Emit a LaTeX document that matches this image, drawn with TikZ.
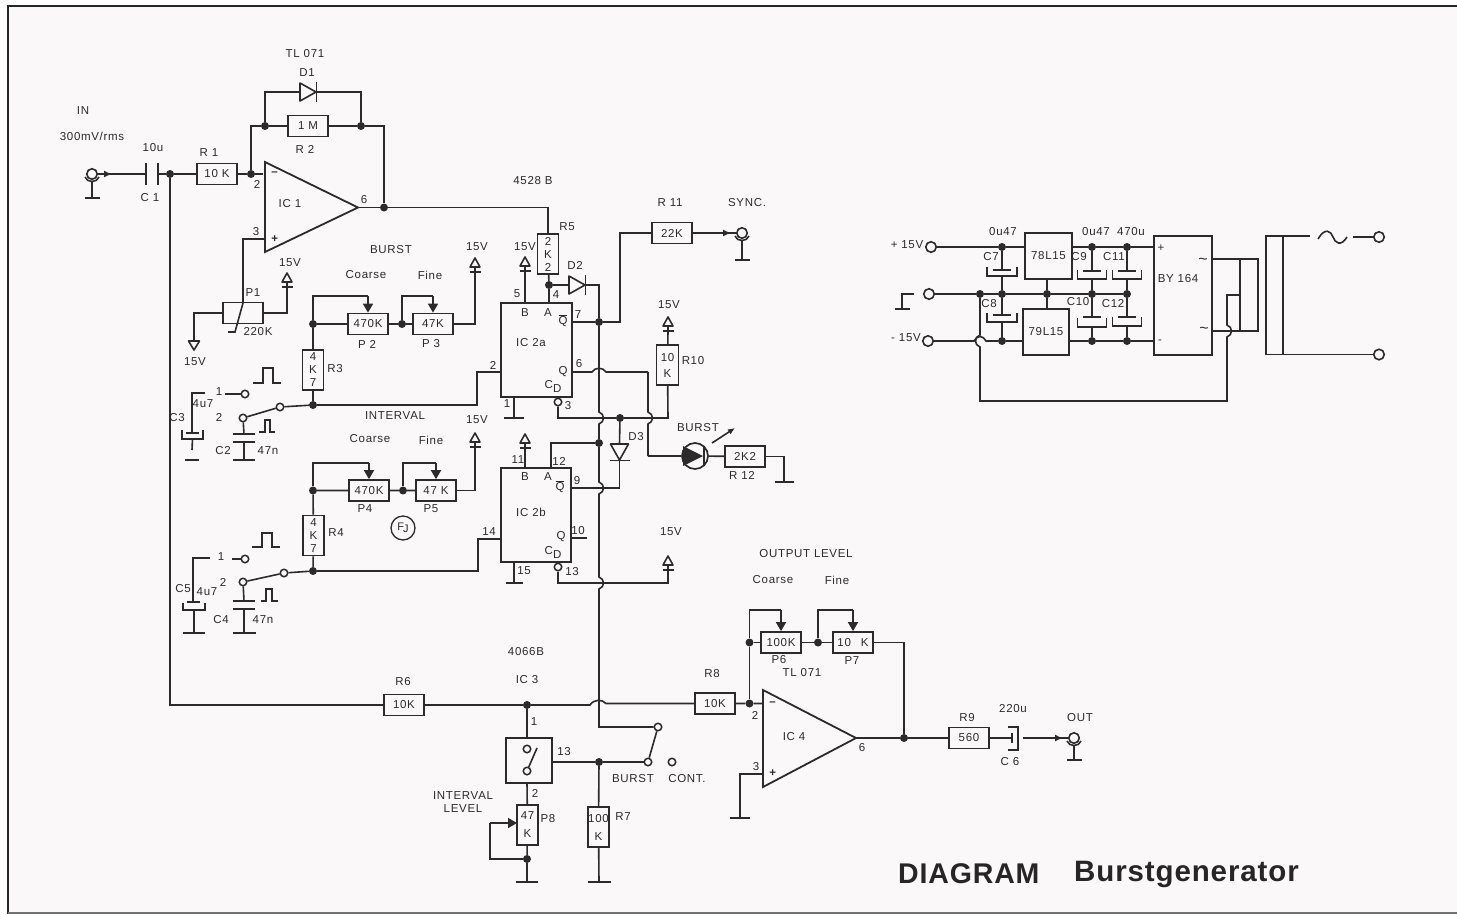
\documentclass[tikz,border=0pt]{standalone}
\usepackage{fontspec}
\setmainfont[LetterSpace=6]{Liberation Sans}
\newfontfamily\titlefont[LetterSpace=3]{Liberation Sans}
\usetikzlibrary{arrows.meta}
\definecolor{ink}{HTML}{2B2B2B}
\definecolor{paper}{HTML}{FBF8FA}
\tikzset{
  wire/.style={line width=1.6pt,draw=ink,line join=miter},
  res/.style={draw=ink,line width=1.7pt,rectangle,minimum width=40pt,minimum height=21pt,inner sep=0pt,text=ink,font=\fontsize{11.5}{13}\selectfont,align=center},
  vres/.style={res,minimum width=21pt,minimum height=40pt},
  icbox/.style={draw=ink,line width=1.7pt,rectangle,inner sep=0pt,text=ink,font=\fontsize{11.5}{13}\selectfont},
  dot/.style={circle,fill=ink,inner sep=0pt,minimum size=8pt},
  term/.style={circle,draw=ink,line width=1.6pt,fill=paper,inner sep=0pt,minimum size=10.5pt},
  cd/.style={circle,draw=ink,line width=1.5pt,fill=paper,inner sep=0pt,minimum size=7.5pt},
  plate/.style={rectangle,fill=ink,inner sep=0pt,minimum width=22pt,minimum height=2pt},
  vplate/.style={rectangle,fill=ink,inner sep=0pt,minimum width=2pt,minimum height=22pt},
  gnd/.style={rectangle,fill=ink,inner sep=0pt,minimum width=20pt,minimum height=2pt},
  lab/.style={inner sep=0pt,text=ink,font=\fontsize{11.5}{13}\selectfont,align=center},
  big/.style={inner sep=0pt,text=black!85,anchor=base west,font=\titlefont\bfseries\selectfont},
  arr/.style={wire,-{Latex[length=8pt,width=7pt]}},
  wip/.style={wire,-{Triangle[length=9pt,width=10pt]}}
}
% supply symbol: bar at (x,y), open triangle above it
\newcommand\supply[3]{\coordinate (#1) at (#2,#3);
  \draw[wire] (#2-5.5,#3)--(#2+5.5,#3);
  \draw[wire,line join=round] (#2-5,#3-5)--(#2,#3-14)--(#2+5,#3-5)--cycle;
  \draw[wire] (#2,#3-5)--(#2,#3);}
% diode: anode at -8, bar at +9
\newcommand\diode[4]{\begin{scope}[shift={(#2,#3)},rotate=#4]
  \draw[wire,line join=round] (-8,-9)--(-8,9)--(8,0)--cycle;
  \draw[wire] (8.5,-10)--(8.5,10);
  \coordinate (#1-a) at (-8,0);\coordinate (#1-k) at (8.5,0);
  \end{scope}}
% U of an electrolytic capacitor
\newcommand\ushape[5]{\coordinate (#1) at (#2,#4);
  \draw[wire] (#2-#3,#4-#5)--(#2-#3,#4)--(#2+#3,#4)--(#2+#3,#4-#5);}
% coaxial jack
\newcommand\jack[4]{\node[term] (#1) at (#2,#3) {};
  \draw[wire] (#2-7,#3+3) .. controls (#2-5,#3+9) and (#2+5,#3+9) .. (#2+7,#3+3);
  \node[gnd,minimum width=15pt] (#1-g) at (#2,#4) {};
  \coordinate (#1-s) at (#2,#3+7);
  \draw[wire] (#1-s)--(#1-g);}
% vertical wire hopping a crossing
\def\hop#1#2{-- (#1,#2-6) .. controls (#1+6,#2-4) and (#1+6,#2+4) .. (#1,#2+6)}
\begin{document}
\begin{tikzpicture}[x=1pt,y=-1pt]
\useasboundingbox (0,0) rectangle (1457,914);
\fill[white] (0,0) rectangle (1457,914);
\fill[paper] (8,6) rectangle (1457,912);
\draw[line width=2pt,draw=black!85] (8,914)--(8,6)--(1457,6);
\draw[line width=1.2pt,draw=black!55] (8,913)--(1457,913);

%%%%%% input stage
\jack{jin}{92}{174}{198}
\coordinate (ainp) at (112,174);
\node[vplate] (c1a) at (146,174) {};
\node[vplate] (c1b) at (158,174) {};
\node[dot] (j1) at (170,174) {};
\node[res] (r1) at (217,174) {10 K};
\node[dot] (j2) at (251,174) {};
\node[dot] (j3) at (265,126) {};
\node[res] (r2) at (308,126) {1 M};
\node[dot] (j4) at (361,126) {};
\node[dot] (j5) at (384,207.5) {};
\coordinate (c251) at (251,126);
\coordinate (c384) at (384,126);
\diode{d1}{308}{92}{0}
\coordinate (c265) at (265,92);
\coordinate (c361) at (361,92);
\draw[wire] (jin)--(c1a);
\draw[arr] (jin)--(ainp);
\draw[wire] (c1b)--(j1)--(r1)--(j2)--(263,174);
\draw[wire] (j2)--(c251)--(j3)--(r2)--(j4)--(c384)--(j5);
\draw[wire] (j3)--(c265)--(d1-a);
\draw[wire] (d1-k)--(c361)--(j4);
% op amp 1
\coordinate (oa1a) at (265,162);
\coordinate (oa1b) at (265,252);
\coordinate (oa1c) at (358,207.5);
\draw[wire,line width=1.8pt] (oa1a)--(oa1b)--(oa1c)--cycle;
\node[lab] (m1) at (275,174) {\textbf{--}};
\node[lab] (p1pl) at (275,239) {\textbf{+}};
\coordinate (oa1p) at (265,239);
\draw[wire] (oa1c)--(j5);
% R5 and the line to it
\node[vres] (r5) at (548,254) {2\\K\\2};
\coordinate (c548) at (548,207.5);
\draw[wire] (j5)--(c548)--(r5);
% P1
\node[res] (p1) at (243,313) {};
\coordinate (c243) at (243,239);
\coordinate (w1a) at (243,303);
\coordinate (w1b) at (235,332);
\coordinate (w1c) at (228,332);
\draw[wire] (oa1p)--(c243)--(w1a)--(w1b)--(w1c);
\coordinate (c195) at (194,313);
\coordinate (t1) at (194,340);
\draw[wire] (p1)--(c195)--(t1);
\draw[wire,line join=round] (188.5,341)--(199.5,341)--(194,350)--cycle;
\supply{s1}{287}{287}
\coordinate (c287) at (287,313);
\draw[wire] (p1)--(c287)--(s1);

%%%%%% burst pots
\node[res] (p2) at (368,324) {470K};
\node[res] (p3) at (433,324) {47K};
\node[dot] (j6) at (313,324) {};
\node[dot] (j7) at (402,324) {};
\node[vres] (r3) at (313,370) {4\\K\\7};
\coordinate (t2) at (313,296);
\coordinate (t2b) at (368,296);
\coordinate (t3) at (402,296);
\coordinate (t3b) at (433,296);
\draw[wire] (r3)--(j6)--(p2)--(j7)--(p3);
\draw[wire] (j6)--(t2)--(t2b);
\draw[wip] (t2b)--(p2.north);
\draw[wire] (j7)--(t3)--(t3b);
\draw[wip] (t3b)--(p3.north);
\supply{s3}{475}{272}
\coordinate (c475) at (475,324);
\draw[wire] (p3)--(c475)--(s3);

%%%%%% interval pots
\node[res] (p4) at (369,490.5) {470K};
\node[res] (p5) at (436,490.5) {47 K};
\node[dot] (j8) at (313,490.5) {};
\node[dot] (j9) at (403,490.5) {};
\node[vres] (r4) at (313.5,535.5) {4\\K\\7};
\coordinate (t4) at (313,463);
\coordinate (t4b) at (369,463);
\coordinate (t5) at (403,463);
\coordinate (t5b) at (436,463);
\draw[wire] (r4)--(j8)--(p4)--(j9)--(p5);
\draw[wire] (j8)--(t4)--(t4b);
\draw[wip] (t4b)--(p4.north);
\draw[wire] (j9)--(t5)--(t5b);
\draw[wip] (t5b)--(p5.north);
\supply{s5}{475}{447}
\coordinate (c475b) at (475,490.5);
\draw[wire] (p5)--(c475b)--(s5);

%%%%%% timing switch 1
\node[dot] (j10) at (313,405) {};
\node[cd] (sw1a) at (280,407) {};
\node[cd] (sw1b) at (243,418) {};
\node[cd] (sw1c) at (245,394) {};
\coordinate (c477) at (477,405);
\coordinate (c477b) at (477,372);
\coordinate (pin2) at (501,372);
\draw[wire] (r3)--(j10)--(c477)--(c477b)--(pin2);
\draw[wire] (j10)--(sw1a)--(sw1b);
\coordinate (w225) at (225,394);
\draw[wire] (w225)--(sw1c);
\coordinate (c3w) at (205,393);
\coordinate (c3c) at (192,393);
\node[plate,minimum width=13pt] (c3p) at (192,433) {};
\ushape{c3u}{192.5}{10.5}{439}{9}
\node[gnd,minimum width=14pt,minimum height=2.5pt] (c3g) at (192,460) {};
\draw[wire] (c3w)--(c3c)--(c3p);
\draw[wire] (c3u)--(192,450);
\node[plate] (c2a) at (244,434) {};
\node[plate] (c2b) at (244,442) {};
\node[gnd,minimum width=22pt] (c2g) at (244,460) {};
\draw[wire] (sw1b)--(c2a);
\draw[wire] (c2b)--(c2g);
\draw[wire] (253,383)--(263,383)--(263,368)--(273,368)--(273,383)--(281,383);
\draw[wire] (259,432)--(265,432)--(265,420)--(270,420)--(270,432)--(275,432);

%%%%%% timing switch 2
\node[dot] (j11) at (313,571) {};
\node[cd] (sw2a) at (284,573) {};
\node[cd] (sw2b) at (243,582) {};
\node[cd] (sw2c) at (245,559) {};
\coordinate (c478) at (478,571);
\coordinate (c478b) at (478,539);
\coordinate (pin14) at (501,539);
\draw[wire] (r4)--(j11)--(c478)--(c478b)--(pin14);
\draw[wire] (j11)--(sw2a)--(sw2b);
\coordinate (w232) at (232,559);
\draw[wire] (w232)--(sw2c);
\coordinate (c5w) at (210,558);
\coordinate (c5c) at (193,558);
\node[plate,minimum width=13pt] (c5p) at (193,602) {};
\ushape{c5u}{194}{11}{610}{7}
\node[gnd,minimum width=22pt] (c5g) at (194,633) {};
\draw[wire] (c5w)--(c5c)--(c5p);
\draw[wire] (c5u)--(c5g);
\node[plate] (c4a) at (244,601) {};
\node[plate] (c4b) at (244,609) {};
\node[gnd,minimum width=23pt] (c4g) at (244,633) {};
\draw[wire] (sw2b)--(c4a);
\draw[wire] (c4b)--(c4g);
\draw[wire] (252,547)--(262,547)--(262,533)--(272,533)--(272,547)--(280,547);
\draw[wire] (261,601)--(266,601)--(266,589)--(272,589)--(272,601)--(278,601);

%%%%%% IC2a
\node[icbox,minimum width=71pt,minimum height=94pt] (ic2a) at (536.5,350) {};
\node[dot] (j12) at (549,285) {};
\coordinate (pin4) at (549,303);
\draw[wire] (r5)--(j12)--(pin4);
\diode{d2}{577}{285}{0}
\draw[wire] (j12)--(d2-a);
\supply{s2a}{525}{271}
\coordinate (pin5) at (525,303);
\draw[wire] (s2a)--(pin5);
\coordinate (pin1) at (514,397);
\node[gnd] (g1) at (514,418) {};
\draw[wire] (pin1)--(g1);
\node[cd] (cd2a) at (558,402) {};
\node[dot] (j13) at (599,322) {};
\coordinate (q2a) at (572,322);
\coordinate (c620) at (620,322);
\coordinate (c620b) at (620,233);
\node[res] (r11) at (672,233) {22K};
\draw[wire] (q2a)--(j13)--(c620)--(c620b)--(r11);
\jack{jsync}{742}{233}{260}
\coordinate (asy) at (731,233);
\draw[wire] (r11)--(jsync);
\draw[arr] (r11)--(asy);
% R10 and the reset rail
\supply{s10}{668}{331}
\node[vres,minimum width=22pt] (r10) at (667.5,365) {10\\[3pt]K};
\draw[wire] (s10)--(r10);
\node[dot] (j14) at (620,418) {};
\coordinate (c668) at (668,418);
\coordinate (c558) at (558,418);
\draw[wire] (cd2a)--(c558)--(j14)--(c668)--(r10);
% main vertical
\node[dot] (j15) at (599,443) {};
\node[dot] (j16) at (599,762) {};
\node[cd] (swa) at (658,727) {};
\coordinate (dk) at (599,285);
\coordinate (cvb) at (599,727);
\draw[wire] (d2-k)--(dk)--(j13);
\draw[wire] (j13) \hop{599}{418} -- (j15) \hop{599}{488} \hop{599}{583} -- (cvb)--(swa);
% Q 6 line
\coordinate (q6) at (572,372);
\coordinate (c648) at (648,372);
\coordinate (c648b) at (648,456);
\draw[wire] (q6)--(592,372) .. controls (595,367) and (603,367) .. (606,372)--(c648);
\draw[wire] (c648) \hop{648}{418} -- (c648b);
% LED
\node[circle,draw=ink,line width=1.7pt,inner sep=0pt,minimum size=26pt] (led) at (695,456) {};
\fill[ink] (683,446)--(683,466)--(703,456)--cycle;
\draw[wire] (704,446)--(704,466);
\draw[wire] (c648b)--(led);
\node[res] (r12) at (745,456.5) {2K2};
\draw[wire] (led)--(r12);
\coordinate (la) at (712,443);
\coordinate (lb) at (735,428);
\draw[wire,-{Latex[length=7pt,width=6pt]}] (la)--(lb);
\coordinate (c784) at (784,456.5);
\node[gnd,minimum width=19pt] (g12) at (784,482) {};
\draw[wire] (r12)--(c784)--(g12);
% D3
\diode{d3}{619.5}{452}{-90}
\draw[wire] (j14)--(d3-a);
\coordinate (c619) at (619.5,488);
\coordinate (q9) at (571,488);
\draw[wire] (d3-k)--(c619)--(q9);

%%%%%% IC2b
\node[icbox,minimum width=70pt,minimum height=94pt] (ic2b) at (536,515) {};
\coordinate (c551) at (551,443);
\coordinate (pin12) at (551,468);
\draw[wire] (j15)--(c551)--(pin12);
\supply{s2b}{525}{448}
\coordinate (pin11) at (525,468);
\draw[wire] (s2b)--(pin11);
\coordinate (pin15) at (514,562);
\node[gnd,minimum width=17pt] (g15) at (514,583) {};
\draw[wire] (pin15)--(g15);
\coordinate (q10) at (571,538);
\coordinate (q10b) at (587,538);
\draw[wire] (q10)--(q10b);
\node[cd] (cd2b) at (558,567) {};
\coordinate (c558b) at (558,583);
\supply{s15}{668}{570}
\coordinate (c668b) at (668,583);
\draw[wire] (cd2b)--(c558b)--(c668b)--(s15);

%%%%%% IC3 and mixer
\coordinate (c170) at (170,705);
\node[res] (r6) at (404,705) {10K};
\node[dot] (j18) at (527,705) {};
\node[res] (r8) at (715,703.5) {10K};
\node[dot] (j19) at (749.5,703.5) {};
\draw[wire] (j1)--(c170)--(r6)--(j18)--(590,705) .. controls (594,699) and (602,699) .. (606,703.5)--(r8)--(j19)--(763,703.5);
\node[icbox,minimum width=46pt,minimum height=45pt] (ic3) at (529,760.5) {};
\coordinate (c527) at (527,738);
\draw[wire] (j18)--(c527);
\node[cd] (ic3a) at (527,749) {};
\node[cd] (ic3b) at (527,771) {};
\draw[wire] (537,748)--(ic3b);
\node[cd] (swb) at (648,762) {};
\node[cd] (swc) at (672,762) {};
\coordinate (o13) at (552,762);
\draw[wire] (o13)--(j16)--(swb);
\draw[wire] (swa)--(swb);
\node[vres] (r7) at (598.5,827) {100\\[5pt]K};
\node[gnd,minimum width=23pt] (g7) at (599,882) {};
\draw[wire] (j16)--(r7)--(g7);
\node[vres] (p8) at (527.5,825) {47\\[5pt]K};
\coordinate (o2) at (527,783);
\draw[wire] (o2)--(p8);
\node[dot] (j20) at (527,859) {};
\node[gnd,minimum width=22pt] (g8) at (527,882) {};
\draw[wire] (p8)--(j20)--(g8);
\coordinate (c490) at (490,859);
\coordinate (c490b) at (490,823);
\coordinate (p8w) at (517,823);
\draw[wire] (j20)--(c490)--(c490b);
\draw[wip] (c490b)--(p8w);

%%%%%% output stage
\coordinate (oa4a) at (763,690);
\coordinate (oa4b) at (763,787);
\coordinate (oa4c) at (856,738);
\draw[wire,line width=1.8pt] (oa4a)--(oa4b)--(oa4c)--cycle;
\node[lab] (m4) at (773,704) {\textbf{--}};
\node[lab] (p4pl) at (773,773) {\textbf{+}};
\coordinate (oa4p) at (763,774);
\coordinate (c740) at (740,774);
\node[gnd,minimum width=20pt] (g4) at (740,818) {};
\draw[wire] (oa4p)--(c740)--(g4);
\node[res] (p6) at (781,642.5) {100K};
\node[res] (p7) at (853,642.5) {10\hspace{10pt}K};
\node[dot] (j21) at (749.5,642.5) {};
\node[dot] (j22) at (818,642.5) {};
\coordinate (t6) at (749.5,610);
\coordinate (t6b) at (781,610);
\coordinate (t7) at (818,610);
\coordinate (t7b) at (853,610);
\draw[wire] (j19)--(j21)--(t6)--(t6b);
\draw[wip] (t6b)--(p6.north);
\draw[wire] (j21)--(p6)--(j22)--(p7);
\draw[wire] (j22)--(t7)--(t7b);
\draw[wip] (t7b)--(p7.north);
\node[dot] (j23) at (904,738) {};
\coordinate (c904) at (904,642.5);
\draw[wire] (p7)--(c904)--(j23);
\node[res] (r9) at (969,738) {560};
\draw[wire] (oa4c)--(j23)--(r9);
\node[rectangle,fill=ink,inner sep=0pt,minimum width=2pt,minimum height=10pt] (c6p) at (1012,738) {};
\draw[wire] (1008,727)--(1018,727)--(1018,750)--(1008,750);
\draw[wire] (r9)--(c6p);
\coordinate (o6) at (1023,738);
\coordinate (ao) at (1063,738);
\jack{jout}{1074}{738}{760}
\draw[wire] (o6)--(jout);
\draw[arr] (o6)--(ao);

%%%%%% power supply
\node[term] (tp) at (931,247) {};
\node[term] (tg) at (929,294) {};
\node[term] (tm) at (928,341) {};
\node[icbox,minimum width=47pt,minimum height=46pt] (u1) at (1048.5,256) {78L15};
\node[icbox,minimum width=46pt,minimum height=46pt] (u2) at (1046,332) {79L15};
\node[icbox,minimum width=58pt,minimum height=119pt] (by) at (1183,295.5) {};
\foreach \n/\xx/\yy in {a/1002/247,b/1092/247,c/1127/247,d/980/294,e/1002/294,f/1047/294,g/1092/294,h/1127/294,i/1002/341,k/1092/341,l/1127/341}
  \node[dot] (ps\n) at (\xx,\yy) {};
\draw[wire] (tp)--(psa)--(1025,247);
\draw[wire] (1072,247)--(psb)--(psc)--(1154,247);
\draw[wire] (tg)--(psd)--(pse)--(psf)--(psg)--(psh);
\draw[wire] (psf)--(1047,279);
\draw[wire] (psf)--(1047,309);
\draw[wire] (tm)--(974,341) .. controls (977,335) and (983,335) .. (986,341)--(psi)--(1023,341);
\draw[wire] (1069,341)--(psk)--(psl)--(1154,341);
% capacitors
\foreach \n/\xx/\pl/\uu/\hw/\top/\bot in {7/1002/270/276/15/psa/pse,9/1092/271/279/14.5/psb/psg,11/1127/271/279/14.5/psc/psh,8/1002/315/322/15/pse/psi,10/1092/317/327/14.5/psg/psk,12/1127/317/326/14.5/psh/psl}{
  \node[plate,minimum width=18pt] (cp\n) at (\xx,\pl) {};
  \ushape{cu\n}{\xx}{\hw}{\uu}{9}
  \draw[wire] (\top)--(cp\n);
  \draw[wire] (cu\n)--(\bot);
}
% ground symbol at the power input
\coordinate (gs1) at (914,294);
\coordinate (gs2) at (902,294);
\node[gnd,minimum width=15pt] (gs3) at (902,309) {};
\draw[wire] (gs1)--(gs2)--(gs3);
% AC side
\coordinate (ac1) at (1212,259);
\coordinate (ac2) at (1212,331);
\coordinate (ac3) at (1258,259);
\coordinate (ac4) at (1258,331);
\coordinate (ac5) at (1240,259);
\coordinate (ac6) at (1240,331);
\coordinate (ac7) at (1240,295);
\coordinate (ac8) at (1227,295);
\coordinate (ac9) at (1227,401);
\coordinate (ac10) at (980,401);
\draw[wire] (ac1)--(ac3)--(ac4)--(ac2);
\draw[wire] (ac5)--(ac6);
\draw[wire] (ac7)--(ac8) \hop{1227}{331} --(ac9)--(ac10)--(980,347) .. controls (974,345) and (974,337) .. (980,335)--(psd);
% transformer
\coordinate (tr1) at (1266,236);
\coordinate (tr2) at (1266,354.5);
\coordinate (tr3) at (1310,236);
\coordinate (tr4) at (1283,236);
\coordinate (tr5) at (1283,354.5);
\node[term] (ta) at (1379,237) {};
\node[term] (tb) at (1379,354.5) {};
\draw[wire] (tr3)--(tr1)--(tr2)--(tr5)--(tb);
\draw[wire] (tr4)--(tr5);
\draw[wire] (1318,239) .. controls (1325,227) and (1331,231) .. (1333,237) .. controls (1335,243) and (1341,247) .. (1347,237);
\coordinate (ts) at (1353,237);
\draw[wire] (ts)--(ta);

%%%%%% labels
\node[lab] (tIN) at (83,111) {IN};
\node[lab] (t300) at (92,136) {300mV/rms};
\node[lab] (t10u) at (153,148) {10u};
\node[lab] (tC1) at (150,198) {C 1};
\node[lab] (tR1) at (209,153) {R 1};
\node[lab] (tTL1) at (305,54) {TL 071};
\node[lab] (tD1) at (307,73) {D1};
\node[lab] (tR2) at (305,149) {R 2};
\node[lab] (tIC1) at (290,204) {IC\hspace{4pt}1};
\node[lab] (t6a) at (364,200) {6};
\node[lab] (t2a) at (257,184) {2};
\node[lab] (t3a) at (256,232) {3};
\node[lab] (tP1) at (253,293) {P1};
\node[lab] (t220) at (258,332) {220K};
\node[lab] (t15a) at (290,263) {15V};
\node[lab] (t15b) at (195,362) {15V};
\node[lab] (tBURST) at (391,250) {BURST};
\node[lab] (tCoarse1) at (366,275) {Coarse};
\node[lab] (tFine1) at (430,275) {Fine};
\node[lab] (t15c) at (477,247) {15V};
\node[lab] (tP2) at (367,344) {P 2};
\node[lab] (tP3) at (431,344) {P 3};
\node[lab] (tR3) at (335,369) {R3};
\node[lab] (t1a) at (219,392) {1};
\node[lab] (t2b) at (219,417) {2};
\node[lab] (t4u7a) at (203,404) {4u7};
\node[lab] (tC3) at (177,418) {C3};
\node[lab] (tC2) at (223,451) {C2};
\node[lab] (t47a) at (268,451) {47n};
\node[lab] (tINTERVAL) at (395,416) {INTERVAL};
\node[lab] (tCoarse2) at (370,439) {Coarse};
\node[lab] (tFine2) at (431,440) {Fine};
\node[lab] (t15d) at (477,420) {15V};
\node[lab] (tP4) at (365,509) {P4};
\node[lab] (tP5) at (431,509) {P5};
\node[lab] (tR4) at (336,533) {R4};
\node[circle,draw=ink,line width=1.3pt,inner sep=0pt,minimum size=24pt,text=ink,font=\fontsize{11}{12}\selectfont] (tF) at (403,528) {F\kern-1pt\raisebox{-2pt}{J}};
\node[lab] (t1b) at (221,557) {1};
\node[lab] (t2c) at (223,582) {2};
\node[lab] (tC5) at (183,589) {C5};
\node[lab] (t4u7b) at (207,592) {4u7};
\node[lab] (tC4) at (221,620) {C4};
\node[lab] (t47b) at (263,620) {47n};
\node[lab] (t4528) at (533,181) {4528 B};
\node[lab] (tR5) at (567,227) {R5};
\node[lab] (tD2) at (575,265) {D2};
\node[lab] (t15e) at (525,247) {15V};
\node[lab] (t5) at (517,294) {5};
\node[lab] (t4) at (556,295) {4};
\node[lab] (tBa) at (525,313) {B};
\node[lab] (tAa) at (548,313) {A};
\node[lab] (tQba) at (563,321) {\vbox{\hrule height .9pt\kern1pt\hbox{Q}}};
\node[lab] (t7) at (578,315) {7};
\node[lab] (tIC2a) at (531,343) {IC 2a};
\node[lab] (t2d) at (493,365) {2};
\node[lab] (tQa) at (563,372) {Q};
\node[lab] (t6b) at (579,364) {6};
\node[lab] (tCDa) at (553,386) {C\raisebox{-4pt}{D}};
\node[lab] (t3b) at (568,406) {3};
\node[lab] (t1c) at (507,404) {1};
\node[lab] (tR11) at (670,203) {R 11};
\node[lab] (tSYNC) at (747,203) {SYNC.};
\node[lab] (t15g) at (669,305) {15V};
\node[lab] (tR10) at (693,361) {R10};
\node[lab] (tD3) at (636,437) {D3};
\node[lab] (tBURST2) at (698,428) {BURST};
\node[lab] (tR12) at (742,475) {R 12};
\node[lab] (t11) at (518,460) {11};
\node[lab] (t12) at (559,461) {12};
\node[lab] (tBb) at (525,477) {B};
\node[lab] (tAb) at (548,477) {A};
\node[lab] (tQbb) at (560,487) {\vbox{\hrule height .9pt\kern1pt\hbox{Q}}};
\node[lab] (t9) at (577,481) {9};
\node[lab] (tIC2b) at (531,512) {IC 2b};
\node[lab] (t14) at (489,532) {14};
\node[lab] (t10) at (578,531) {10};
\node[lab] (tQb) at (561,537) {Q};
\node[lab] (tCDb) at (553,552) {C\raisebox{-4pt}{D}};
\node[lab] (t15) at (524,571) {15};
\node[lab] (t13a) at (572,572) {13};
\node[lab] (t15h) at (671,532) {15V};
\node[lab] (tOL) at (806,554) {OUTPUT LEVEL};
\node[lab] (tCoarse3) at (773,580) {Coarse};
\node[lab] (tFine3) at (837,580) {Fine};
\node[lab] (tP6) at (779,660) {P6};
\node[lab] (tP7) at (852,661) {P7};
\node[lab] (tTL2) at (802,673) {TL 071};
\node[lab] (tR8) at (712,674) {R8};
\node[lab] (tR6) at (403,682) {R6};
\node[lab] (t4066) at (526,652) {4066B};
\node[lab] (tIC3) at (527,680) {IC 3};
\node[lab] (t1d) at (534,722) {1};
\node[lab] (t13b) at (564,752) {13};
\node[lab] (t2e) at (535,793) {2};
\node[lab] (tIL) at (463,802) {INTERVAL\\LEVEL};
\node[lab] (tP8) at (548,819) {P8};
\node[lab] (tR7) at (623,817) {R7};
\node[lab] (tB3) at (633,779) {BURST};
\node[lab] (tCONT) at (687,779) {CONT.};
\node[lab] (t2f) at (755,715) {2};
\node[lab] (t3c) at (756,767) {3};
\node[lab] (tIC4) at (794,737) {IC 4};
\node[lab] (t6c) at (862,748) {6};
\node[lab] (tR9) at (967,718) {R9};
\node[lab] (t220u) at (1013,709) {220u};
\node[lab] (tC6) at (1010,762) {C 6};
\node[lab] (tOUT) at (1080,718) {OUT};
\node[lab] (tp15) at (907,245) {+ 15V};
\node[lab] (tm15) at (906,338) {- 15V};
\node[lab] (t047a) at (1003,232) {0u47};
\node[lab] (t047b) at (1096,232) {0u47};
\node[lab] (t470) at (1131,232) {470u};
\node[lab] (tC7) at (991,257) {C7};
\node[lab] (tC8) at (989,304) {C8};
\node[lab] (tC9) at (1079,257) {C9};
\node[lab] (tC10) at (1078,302) {C10};
\node[lab] (tC11) at (1114,257) {C11};
\node[lab] (tC12) at (1113,304) {C12};
\node[lab] (tBY) at (1178,279) {BY 164};
\node[lab] (tplus) at (1161,248) {+};
\node[lab] (tminus) at (1160,342) {-};
\node[lab,font=\fontsize{16}{16}\selectfont] (tt1) at (1203,261) {\textasciitilde};
\node[lab,font=\fontsize{16}{16}\selectfont] (tt2) at (1204,330) {\textasciitilde};
\node[big,font=\titlefont\bfseries\fontsize{28.5}{30}\selectfont] (tDG) at (898,883) {DIAGRAM};
\node[big,font=\titlefont\bfseries\fontsize{29.5}{31}\selectfont] (tBG) at (1074,881) {Burstgenerator};
\end{tikzpicture}
\end{document}
